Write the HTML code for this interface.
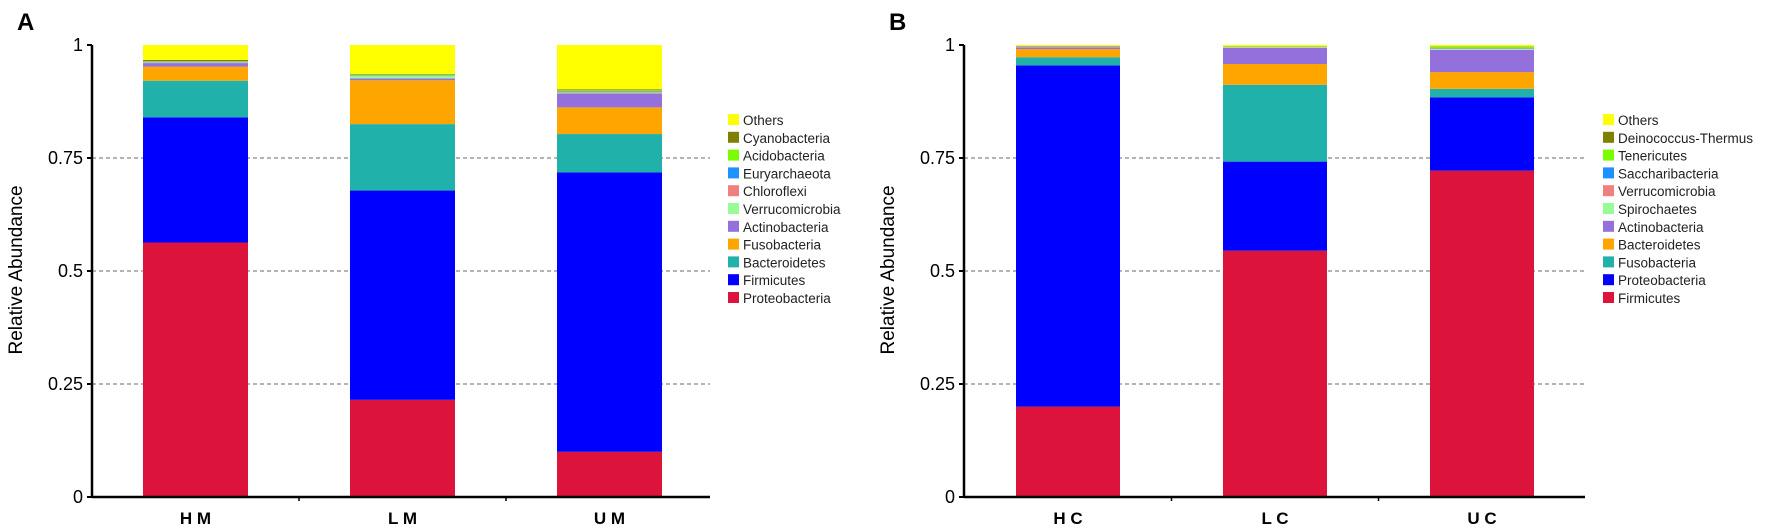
<!DOCTYPE html>
<html><head><meta charset="utf-8"><style>
html,body{margin:0;padding:0;background:#fff;}
svg{display:block;font-family:"Liberation Sans","DejaVu Sans",sans-serif;}
</style></head><body>
<svg id="chart" width="1772" height="529" viewBox="0 0 1772 529"></svg>
<script>
const NS="http://www.w3.org/2000/svg";
const svg=document.getElementById('chart');
const ticks=[0,0.25,0.5,0.75,1];
const tickLabels=["0","0.25","0.5","0.75","1"];
// Panel A
const catsA=["H M","L M","U M"];
const taxaA=["Proteobacteria","Firmicutes","Bacteroidetes","Fusobacteria","Actinobacteria","Verrucomicrobia","Chloroflexi","Euryarchaeota","Acidobacteria","Cyanobacteria","Others"];
const colorsA=["#dc143c","#0000ff","#20b2aa","#ffa500","#9370db","#98fb98","#f08080","#1e90ff","#7cfc00","#808000","#ffff00"];
const proteoA=[0.563,0.215,0.100];
const firmA=[0.277,0.463,0.618];
const bactA=[0.081,0.147,0.085];
const fusoA=[0.031,0.097,0.059];
const actinoA=[0.008,0.004,0.031];
const verrucoA=[0.001,0.005,0.002];
const chloroA=[0.001,0.001,0.002];
const euryA=[0.001,0.001,0.001];
const acidoA=[0.001,0.002,0.002];
const cyanoA=[0.003,0.001,0.002];
const othersA=[0.033,0.064,0.098];
// Panel B
const catsB=["H C","L C","U C"];
const taxaB=["Firmicutes","Proteobacteria","Fusobacteria","Bacteroidetes","Actinobacteria","Spirochaetes","Verrucomicrobia","Saccharibacteria","Tenericutes","Deinococcus-Thermus","Others"];
const colorsB=["#dc143c","#0000ff","#20b2aa","#ffa500","#9370db","#98fb98","#f08080","#1e90ff","#7cfc00","#808000","#ffff00"];
const firmB=[0.200,0.545,0.722];
const proteoB=[0.755,0.197,0.162];
const fusoB=[0.018,0.170,0.019];
const bactB=[0.018,0.046,0.037];
const actinoB=[0.004,0.036,0.049];
const spiroB=[0.001,0.001,0.002];
const verrucoB=[0.001,0.000,0.001];
const saccharB=[0.000,0.000,0.001];
const teneB=[0.000,0.001,0.003];
const deinoB=[0.001,0.001,0.001];
const othersB=[0.002,0.003,0.003];

function el(tag,attrs,parent){const e=document.createElementNS(NS,tag);for(const k in attrs)e.setAttribute(k,attrs[k]);(parent||svg).appendChild(e);return e;}

function panel(cfg){
  const g=el('g',{});
  
  
  const y0=497,y1=45;
  const yS=v=>y0-v*(y0-y1);
  const xS=i=>cfg.firstBar+i*cfg.step;
  ticks.forEach((t,i)=>{
    if(t>0&&t<1){const l=el('line',{x1:cfg.axisX,x2:cfg.gridEnd,y1:yS(t),y2:yS(t),stroke:'#888','stroke-width':1.2,'stroke-dasharray':'4,3'},g);
    
    }
  });
  cfg.cats.forEach((c,i)=>{
    let cum=0;
    cfg.series.forEach((s,k)=>{
      const v=s[i];const top=cum+v;
      const r=el('rect',{x:xS(i),y:yS(top),width:cfg.barW,height:Math.max(0,yS(cum)-yS(top)),fill:cfg.colors[k]},g);
      
      
      cum=top;
    });
    const t=el('text',{x:xS(i)+cfg.barW/2,y:524,'text-anchor':'middle','font-size':17,'font-weight':'bold'},g);
    t.textContent=c;
    
    
    if(i<cfg.cats.length-1){
      const mx=xS(i)+cfg.barW+(cfg.step-cfg.barW)/2;
      el('line',{x1:mx,x2:mx,y1:y0,y2:y0+4,stroke:'#000','stroke-width':1.5},g);
    }
  });
  el('line',{x1:cfg.axisX,x2:cfg.axisX,y1:y1,y2:y0+1,stroke:'#000','stroke-width':2.5},g);
  el('line',{x1:cfg.axisX,x2:cfg.gridEnd,y1:y0,y2:y0,stroke:'#000','stroke-width':2.5},g);
  ticks.forEach((t,i)=>{
    el('line',{x1:cfg.axisX-5,x2:cfg.axisX,y1:yS(t),y2:yS(t),stroke:'#000','stroke-width':2},g);
    const tx=el('text',{x:cfg.axisX-9,y:yS(t)+6,'text-anchor':'end','font-size':18},g);
    tx.textContent=tickLabels[i];
    
    
  });
  const yt=el('text',{x:0,y:0,transform:`translate(${cfg.axisX-70},270) rotate(-90)`,'text-anchor':'middle','font-size':19},g);
  yt.textContent='Relative Abundance';
  
  
  const pl=el('text',{x:cfg.axisX-75,y:30,'font-size':24,'font-weight':'bold'},g);
  pl.textContent=cfg.label;
  
  
  const n=cfg.taxa.length;
  for(let j=0;j<n;j++){
    const k=n-1-j;const yy=114+j*17.8;
    const sw=el('rect',{x:cfg.legX,y:yy,width:11,height:11,fill:cfg.colors[k]},g);
    
    
    const lt=el('text',{x:cfg.legX+15,y:yy+11,'font-size':13.5,fill:'#222'},g);
    lt.textContent=cfg.taxa[k];
    
    
  }
}
panel({name:'panel-a',label:'A',cats:catsA,taxa:taxaA,colors:colorsA,
  series:[proteoA,firmA,bactA,fusoA,actinoA,verrucoA,chloroA,euryA,acidoA,cyanoA,othersA],
  axisX:92,firstBar:143,step:207,barW:105,gridEnd:710,legX:728});
panel({name:'panel-b',label:'B',cats:catsB,taxa:taxaB,colors:colorsB,
  series:[firmB,proteoB,fusoB,bactB,actinoB,spiroB,verrucoB,saccharB,teneB,deinoB,othersB],
  axisX:964,firstBar:1016,step:207,barW:104,gridEnd:1585,legX:1603});
</script>
</body></html>
